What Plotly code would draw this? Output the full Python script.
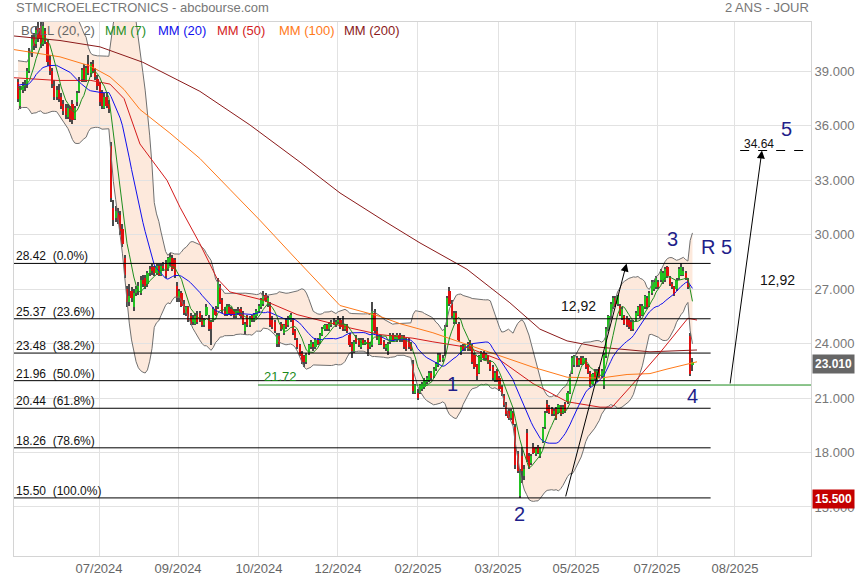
import plotly.graph_objects as go
import pandas as pd

# ---------------- daily OHLC (index 0 = first visible session) ----------------
opens = [
    38.4, 37.1, 38.0, 38.2, 38.3, 39.0, 40.0, 40.9, 40.5, 41.4,
    41.5, 40.5, 41.2, 40.6, 39.6, 39.0, 38.2, 37.6, 38.0, 37.6,
    37.2, 37.0, 36.5, 36.9, 37.2, 36.4, 37.3, 37.9, 38.6, 39.2,
    38.5, 39.4, 38.9, 39.4, 39.0, 38.6, 38.3, 37.8, 37.0, 37.6,
    37.2, 34.9, 31.5, 30.9, 31.2, 31.1, 30.3, 28.7, 27.0, 26.3,
    26.9, 26.0, 26.8, 26.9, 26.8, 27.5, 27.6, 27.3, 27.9, 28.2,
    28.2, 27.9, 28.3, 27.8, 28.3, 28.4, 28.1, 28.5, 28.7, 28.6,
    27.2, 26.5, 26.8, 26.2, 25.7, 26.0, 25.5, 25.2, 25.1, 25.6,
    25.7, 25.4, 25.0, 25.6, 25.4, 25.2, 25.3, 25.9, 26.0, 27.2,
    26.4, 25.8, 25.6, 26.0, 25.9, 25.8, 25.5, 25.7, 25.9, 25.7,
    24.7, 25.5, 25.0, 25.5, 25.3, 25.5, 25.8, 26.0, 26.2, 26.7,
    26.2, 26.1, 25.3, 25.2, 24.0, 24.4, 25.1, 24.6, 25.3, 25.0,
    25.3, 25.3, 24.7, 24.2, 23.9, 23.5, 23.3, 23.0, 23.5, 23.8,
    24.0, 23.8, 24.2, 24.1, 24.5, 24.8, 25.0, 24.8, 25.0, 25.2,
    25.0, 25.2, 25.3, 25.1, 24.8, 25.0, 24.5, 24.0, 23.6, 24.3,
    24.2, 23.8, 24.2, 24.0, 24.2, 23.8, 23.9, 25.7, 24.7, 24.0,
    24.4, 24.1, 23.8, 23.6, 24.1, 24.5, 24.3, 24.2, 24.5, 24.2,
    24.4, 24.2, 24.2, 24.0, 22.9, 21.3, 21.3, 21.3, 21.5, 21.6,
    21.9, 22.0, 22.4, 22.2, 22.6, 22.8, 23.4, 23.1, 23.9, 25.0,
    26.9, 26.2, 25.2, 25.7, 25.1, 23.5, 23.8, 23.7, 23.7, 24.1,
    23.9, 23.4, 22.8, 22.4, 23.1, 23.5, 23.2, 23.3, 23.0, 22.7,
    22.0, 22.5, 22.1, 21.6, 21.1, 20.6, 20.3, 19.9, 20.2, 19.4,
    17.9, 15.6, 17.8, 16.7, 19.1, 17.8, 17.4, 18.3, 17.9, 18.3,
    17.8, 18.6, 19.4, 20.7, 20.5, 20.4, 20.1, 20.4, 20.2, 20.5,
    20.2, 20.7, 20.8, 21.3, 22.4, 22.8, 23.2, 22.8, 23.2, 22.9,
    23.1, 22.8, 22.4, 21.8, 22.5, 22.0, 22.6, 22.2, 21.7, 23.3,
    24.8, 25.5, 26.0, 26.5, 26.2, 26.1, 25.4, 25.5, 25.4, 25.3,
    25.2, 24.8, 25.3, 25.6, 26.1, 25.6, 26.0, 26.5, 26.1, 26.8,
    27.0, 27.1, 27.4, 27.5, 27.4, 27.5, 28.2, 27.6, 27.3, 27.1,
    27.0, 27.6, 27.8, 27.8, 27.9, 27.5, 24.4, 22.8,
]
highs = [
    38.6, 38.2, 38.4, 38.5, 39.2, 40.3, 41.0, 41.1, 41.5, 41.8,
    41.7, 41.8, 41.4, 40.8, 39.9, 39.2, 38.5, 38.2, 38.3, 37.8,
    37.4, 37.2, 37.2, 37.1, 37.4, 37.1, 37.9, 38.7, 39.2, 39.4,
    39.3, 39.9, 39.5, 39.6, 39.2, 38.8, 38.4, 38.0, 37.8, 37.8,
    37.4, 35.1, 31.9, 31.6, 31.5, 31.3, 30.6, 28.9, 27.2, 27.3,
    27.1, 27.0, 27.2, 27.4, 27.7, 27.8, 27.8, 28.0, 28.3, 28.4,
    28.3, 28.4, 28.4, 28.4, 28.5, 28.6, 28.8, 29.0, 28.9, 28.7,
    27.4, 27.0, 26.9, 26.4, 26.1, 26.1, 25.7, 25.6, 25.7, 25.8,
    25.8, 25.6, 25.4, 26.2, 25.6, 25.3, 26.0, 26.1, 27.6, 27.3,
    26.5, 26.0, 26.2, 26.2, 26.0, 25.9, 25.9, 26.0, 26.0, 25.8,
    25.2, 25.6, 25.5, 25.6, 25.7, 25.9, 26.2, 26.5, 26.9, 26.8,
    26.6, 26.3, 25.5, 25.3, 24.6, 24.6, 25.2, 25.1, 25.4, 25.5,
    25.7, 25.4, 24.8, 24.3, 24.0, 23.6, 23.4, 23.5, 24.0, 24.2,
    24.1, 24.3, 24.3, 24.6, 24.9, 25.1, 25.1, 25.2, 25.3, 25.4,
    25.3, 25.5, 25.4, 25.5, 25.1, 25.1, 24.6, 24.1, 24.2, 24.5,
    24.3, 24.3, 24.3, 24.2, 24.3, 24.1, 26.3, 25.9, 24.9, 24.5,
    24.5, 24.2, 24.0, 24.1, 24.6, 24.6, 24.5, 24.6, 24.6, 24.5,
    24.5, 24.3, 24.3, 24.1, 23.1, 21.8, 21.5, 21.8, 21.9, 22.1,
    22.2, 22.5, 22.5, 22.7, 23.0, 23.5, 23.5, 23.4, 25.0, 26.6,
    27.1, 26.4, 25.8, 25.8, 25.2, 23.9, 24.0, 24.0, 24.1, 24.2,
    24.0, 23.5, 22.9, 23.4, 23.6, 23.6, 23.5, 23.4, 23.1, 22.8,
    22.5, 22.6, 22.2, 21.7, 21.2, 20.8, 20.4, 20.4, 20.3, 19.6,
    18.1, 17.1, 18.3, 17.3, 19.3, 18.0, 17.9, 18.5, 18.3, 18.4,
    18.3, 19.4, 20.3, 20.9, 20.6, 20.5, 20.4, 20.5, 20.7, 20.6,
    20.6, 20.8, 21.4, 22.3, 23.3, 23.4, 23.3, 23.2, 23.3, 23.3,
    23.2, 22.9, 22.5, 22.4, 22.6, 22.6, 22.7, 22.6, 23.5, 24.9,
    25.6, 26.3, 26.6, 26.6, 26.7, 26.2, 26.0, 25.6, 25.5, 25.4,
    25.3, 25.3, 25.8, 26.1, 26.2, 26.2, 26.7, 26.6, 26.9, 27.5,
    27.5, 27.7, 27.5, 28.1, 28.0, 28.2, 28.3, 27.7, 27.4, 27.2,
    27.6, 28.2, 28.45, 28.2, 28.0, 27.6, 24.6, 23.2,
]
lows = [
    37.3, 36.9, 37.8, 37.9, 38.1, 38.9, 39.8, 40.2, 40.3, 40.6,
    40.3, 40.4, 40.5, 39.3, 38.8, 38.1, 37.4, 37.4, 37.3, 36.9,
    36.6, 36.4, 36.4, 36.2, 36.1, 36.3, 37.1, 37.8, 38.4, 38.4,
    38.4, 38.8, 38.7, 38.9, 38.5, 38.0, 37.1, 36.9, 36.9, 37.0,
    36.7, 31.8, 30.5, 30.7, 30.6, 30.0, 29.3, 27.6, 26.0, 26.1,
    26.3, 25.8, 26.6, 26.7, 26.7, 27.1, 27.0, 27.1, 27.7, 27.8,
    27.7, 27.8, 27.7, 27.7, 28.0, 27.6, 28.0, 28.3, 28.0, 27.6,
    26.3, 26.3, 26.0, 25.6, 25.5, 25.2, 25.0, 25.0, 25.0, 25.1,
    25.2, 24.9, 24.9, 25.5, 24.7, 23.9, 25.2, 25.5, 25.9, 26.2,
    25.7, 25.5, 25.5, 25.6, 25.5, 25.4, 25.4, 25.6, 25.4, 25.0,
    24.5, 24.9, 24.9, 25.2, 25.2, 25.4, 25.7, 25.9, 26.1, 26.3,
    26.0, 24.9, 24.8, 24.6, 23.8, 23.8, 24.7, 24.5, 24.8, 24.9,
    25.2, 24.5, 24.2, 23.7, 23.3, 22.9, 22.7, 22.9, 23.4, 23.7,
    23.6, 23.7, 23.9, 24.0, 24.4, 24.7, 24.7, 24.7, 24.9, 25.0,
    24.9, 25.1, 24.8, 24.7, 24.7, 24.6, 23.8, 23.2, 23.5, 24.0,
    23.8, 23.7, 23.9, 23.9, 23.3, 23.7, 23.8, 24.6, 24.2, 23.9,
    23.9, 23.7, 23.6, 23.4, 24.0, 24.1, 24.2, 24.1, 24.1, 24.1,
    23.7, 23.6, 23.7, 23.6, 21.2, 21.2, 20.9, 21.2, 21.4, 21.5,
    21.8, 21.9, 22.0, 22.1, 22.5, 22.7, 23.0, 23.0, 23.3, 24.9,
    26.1, 25.4, 25.1, 25.1, 24.1, 23.4, 23.6, 23.6, 23.6, 23.6,
    22.9, 22.6, 22.0, 22.3, 23.0, 23.1, 23.1, 22.9, 22.5, 22.0,
    21.9, 21.9, 21.4, 21.1, 20.5, 20.0, 19.8, 19.8, 19.5, 17.1,
    16.9, 15.5, 16.3, 16.5, 17.5, 17.1, 17.3, 17.9, 17.8, 17.9,
    17.7, 18.5, 19.3, 20.2, 20.1, 20.0, 20.0, 19.8, 20.1, 20.0,
    20.1, 20.2, 20.7, 21.2, 22.3, 22.7, 22.7, 22.7, 22.8, 22.8,
    22.6, 22.3, 21.6, 21.7, 22.0, 21.9, 22.1, 22.1, 21.5, 23.2,
    24.7, 25.4, 25.9, 26.0, 26.1, 25.5, 25.3, 25.0, 24.9, 24.8,
    24.7, 24.7, 25.2, 25.5, 25.4, 25.5, 25.9, 25.9, 26.0, 26.7,
    26.9, 27.0, 27.0, 27.4, 27.3, 27.4, 27.6, 27.2, 27.0, 26.6,
    26.9, 27.5, 27.7, 27.7, 27.5, 27.0, 22.2, 22.5,
]
closes = [
    37.5, 38.0, 38.2, 38.3, 39.0, 40.0, 40.8, 40.4, 41.3, 40.8,
    40.5, 41.5, 40.7, 39.5, 39.0, 38.3, 37.6, 38.0, 37.5, 37.1,
    36.8, 36.6, 37.0, 36.4, 36.3, 37.0, 37.8, 38.5, 39.1, 38.6,
    39.2, 38.9, 39.4, 39.0, 38.7, 38.2, 37.3, 37.1, 37.6, 37.1,
    36.9, 32.0, 30.8, 31.3, 30.8, 30.2, 29.5, 27.8, 26.3, 26.6,
    26.5, 26.8, 27.0, 27.2, 27.5, 27.3, 27.2, 27.9, 28.1, 28.0,
    27.9, 28.3, 27.8, 28.3, 28.2, 27.7, 28.7, 28.8, 28.1, 27.7,
    26.5, 26.9, 26.1, 25.7, 26.0, 25.3, 25.1, 25.4, 25.5, 25.2,
    25.3, 25.0, 25.3, 26.0, 24.8, 24.8, 25.9, 25.6, 27.4, 26.3,
    25.8, 25.6, 26.1, 25.7, 25.6, 25.5, 25.8, 25.8, 25.5, 25.1,
    25.1, 25.0, 25.4, 25.3, 25.6, 25.8, 26.1, 26.4, 26.6, 26.4,
    26.5, 25.0, 24.9, 24.7, 24.5, 24.0, 24.8, 25.0, 24.9, 25.4,
    25.6, 24.6, 24.3, 23.8, 23.4, 23.0, 23.0, 23.4, 23.9, 24.1,
    23.8, 24.2, 24.0, 24.5, 24.8, 25.0, 24.8, 25.1, 25.2, 25.1,
    25.2, 25.3, 24.9, 24.8, 25.0, 24.7, 23.9, 23.6, 24.1, 24.1,
    23.9, 24.2, 24.0, 24.1, 23.7, 24.0, 25.8, 24.7, 24.3, 24.4,
    24.0, 23.8, 23.9, 24.0, 24.5, 24.2, 24.4, 24.5, 24.2, 24.4,
    23.8, 23.7, 23.8, 23.7, 21.4, 21.7, 21.0, 21.7, 21.8, 22.0,
    22.1, 22.4, 22.1, 22.6, 22.9, 23.4, 23.1, 23.2, 24.9, 26.5,
    26.2, 25.5, 25.7, 25.2, 24.2, 23.8, 23.7, 23.9, 24.0, 23.7,
    23.0, 22.7, 22.2, 23.3, 23.5, 23.2, 23.4, 23.0, 22.6, 22.1,
    22.4, 22.0, 21.5, 21.2, 20.6, 20.1, 19.9, 20.3, 19.6, 17.3,
    17.0, 16.9, 17.0, 17.1, 17.6, 17.2, 17.8, 18.0, 18.2, 18.0,
    18.25, 19.35, 20.2, 20.3, 20.2, 20.1, 20.3, 19.9, 20.6, 20.1,
    20.5, 20.3, 21.3, 22.2, 23.2, 23.3, 22.8, 23.1, 22.9, 23.2,
    22.7, 22.4, 21.7, 22.3, 22.1, 22.5, 22.2, 22.5, 23.4, 24.8,
    25.5, 26.2, 26.5, 26.1, 26.6, 25.6, 25.9, 25.1, 25.0, 24.9,
    24.75, 25.2, 25.7, 26.0, 25.5, 26.1, 26.6, 26.0, 26.8, 27.4,
    27.4, 27.6, 27.1, 28.0, 27.9, 28.1, 27.7, 27.3, 27.1, 26.7,
    27.5, 28.1, 28.2, 28.0, 27.6, 27.1, 22.3, 23.01,
]
# closes of the sessions just before the visible window (estimated from where MM7/MM20/BOLL start)
pre_close = [37.3, 37.9, 38.6, 39.1, 38.7, 38.0, 37.4, 37.1, 37.6, 38.4,
             39.2, 39.5, 39.0, 38.5, 38.0, 37.6, 38.1, 38.8, 38.4]

# long moving averages (session index -> value)
mm50_idx = [-1.8, 17.2, 32.1, 40.5, 46.7, 53.7, 65.6, 71.4, 80.1, 87.6, 93.3, 107.9, 122.9, 144.9, 159.4, 173.9, 182.7, 197.7, 212.2, 226.8, 241.8, 256.3, 261.6, 269.5, 282.7, 295.0, 299.0]
mm50_val = [38.65, 38.5, 38.5, 38.3, 37.5, 35.0, 33.0, 31.5, 29.5, 27.6, 26.85, 26.4, 25.6, 24.9, 24.5, 24.3, 24.1, 23.8, 23.1, 21.8, 20.8, 20.5, 20.5, 21.6, 23.5, 25.4, 25.3]
mm100_idx = [-1.8, 18.5, 31.7, 40.5, 46.7, 53.7, 66.9, 80.1, 93.3, 106.5, 122.9, 141.8, 159.4, 168.2, 182.7, 204.7, 226.8, 241.8, 256.3, 268.2, 278.3, 285.8, 292.8, 299.0]
mm100_val = [40.2, 39.8, 39.3, 38.7, 38.0, 36.9, 35.6, 34.2, 32.5, 30.8, 28.6, 26.1, 25.5, 25.1, 24.6, 23.65, 22.7, 22.15, 22.1, 22.3, 22.35, 22.6, 22.8, 23.0]
mm200_idx = [-1.8, 18.5, 36.1, 55.0, 80.1, 102.1, 124.2, 141.8, 160.7, 177.0, 197.7, 216.6, 229.8, 241.8, 256.3, 278.3, 299.0]
mm200_val = [40.95, 40.7, 40.35, 39.5, 37.9, 36.05, 34.0, 32.3, 30.8, 29.55, 28.1, 26.25, 24.8, 24.15, 23.8, 23.55, 23.65]

# axis ticks (session index where abcbourse places its month labels)
tick_idx = [35.7, 70.5, 106.1, 140.9, 176.1, 211.4, 245.7, 281.4, 315.7]
tick_text = ["07/2024", "09/2024", "10/2024", "12/2024", "02/2025", "03/2025", "05/2025", "07/2025", "08/2025"]

# Fibonacci retracement levels
fib_levels = [28.42, 25.37, 23.48, 21.96, 20.44, 18.26, 15.50]
fib_pct = ["0.0%", "23.6%", "38.2%", "50.0%", "61.8%", "78.6%", "100.0%"]

support_level = 21.72
target_level = 34.64
last_close = 23.01
low_level = 15.50
wave_move = "12,92"

# ---------------- indicators ----------------
n = len(closes)
idx = list(range(n))
k = len(pre_close)
s = pd.Series(pre_close + closes, dtype=float)
ma7 = s.rolling(7).mean().iloc[k:].tolist()
m20 = s.rolling(20).mean()
sd20 = s.rolling(20).std(ddof=0)
upper = (m20 + 2 * sd20).iloc[k:].tolist()
lower = (m20 - 2 * sd20).iloc[k:].tolist()
ma20 = m20.iloc[k:].tolist()

FONT = "Arial, Liberation Sans, sans-serif"
fig = go.Figure()

# candle wicks and bodies (bars, overlaid in trace order)
fig.add_trace(go.Bar(x=idx, y=[h - l for h, l in zip(highs, lows)], base=lows, width=0.45,
                     marker=dict(color="#4a4a4a", line=dict(width=0)), hoverinfo="skip"))
base = [min(o, c) for o, c in zip(opens, closes)]
height = [max(abs(c - o), 0.07) for o, c in zip(opens, closes)]
cols = ["#22c222" if c >= o else "#e01010" for o, c in zip(opens, closes)]
fig.add_trace(go.Bar(x=idx, y=height, base=base, width=0.95, marker=dict(color=cols, line=dict(width=0))))

# Bollinger envelope lines (the fill is a shape under the candles, see below)
fig.add_trace(go.Scatter(x=idx, y=lower, mode="lines", line=dict(color="#707070", width=1), hoverinfo="skip"))
fig.add_trace(go.Scatter(x=idx, y=upper, mode="lines", line=dict(color="#707070", width=1), hoverinfo="skip"))

# moving averages
fig.add_trace(go.Scatter(x=mm200_idx, y=mm200_val, mode="lines", line=dict(color="#8b1a1a", width=1)))
fig.add_trace(go.Scatter(x=mm100_idx, y=mm100_val, mode="lines", line=dict(color="#ff7a1a", width=1)))
fig.add_trace(go.Scatter(x=mm50_idx, y=mm50_val, mode="lines", line=dict(color="#d41c1c", width=1)))
fig.add_trace(go.Scatter(x=idx, y=ma20, mode="lines", line=dict(color="#1010ee", width=1)))
fig.add_trace(go.Scatter(x=idx, y=ma7, mode="lines", line=dict(color="#1f8f1f", width=1)))

X_MIN, X_MAX = -1.76, 349.2
shapes = []
annotations = []

# Bollinger fill as a data-space path drawn beneath the traces
pts = [(i, u) for i, u in zip(idx, upper)] + [(i, l) for i, l in reversed(list(zip(idx, lower)))]
path = "M " + " L ".join(f"{x},{y:.4f}" for x, y in pts) + " Z"
shapes.append(dict(type="path", path=path, xref="x", yref="y", fillcolor="#fde9dc",
                   line=dict(width=0), layer="below"))

fib_end = 305
for lv, pct in zip(fib_levels, fib_pct):
    shapes.append(dict(type="line", x0=X_MIN, x1=fib_end, y0=lv, y1=lv, xref="x", yref="y",
                       line=dict(color="black", width=1), layer="above"))
    annotations.append(dict(x=0, xref="paper", y=lv, yref="y", xanchor="left", yanchor="bottom",
                            text=f"{lv:.2f}\u00a0 ({pct})", showarrow=False, yshift=-2,
                            font=dict(family=FONT, size=12, color="#111")))

# support 21.72 (green)
shapes.append(dict(type="line", x0=105.7, x1=X_MAX, xref="x", y0=support_level, y1=support_level, yref="y",
                   line=dict(color="#1a8a1a", width=1), layer="above"))
annotations.append(dict(x=115.5, y=support_level, yref="y", xref="x", text=f"{support_level:.2f}",
                        showarrow=False, yanchor="bottom", yshift=-1,
                        font=dict(family=FONT, size=13, color="#1a8a1a")))

# target 34.64 (dashed)
shapes.append(dict(type="line", x0=318, x1=X_MAX, y0=target_level, y1=target_level, xref="x", yref="y",
                   line=dict(color="black", width=1, dash="dash"), layer="above"))
annotations.append(dict(x=326.5, y=target_level, xref="x", yref="y", text=f"{target_level:.2f}",
                        showarrow=False, yanchor="bottom", yshift=-2,
                        font=dict(family=FONT, size=12, color="#111")))

# arrows (wave 1-3 length projected from 4)
annotations.append(dict(x=268, y=fib_levels[0], ax=241, ay=low_level, xref="x", yref="y", axref="x", ayref="y",
                        text="", showarrow=True, arrowhead=2, arrowsize=1.6, arrowwidth=1, arrowcolor="black"))
annotations.append(dict(x=327.6, y=target_level, ax=313.5, ay=support_level, xref="x", yref="y", axref="x", ayref="y",
                        text="", showarrow=True, arrowhead=2, arrowsize=1.6, arrowwidth=1, arrowcolor="black"))
annotations.append(dict(x=247, y=26.1, xref="x", yref="y", text=wave_move, showarrow=False,
                        font=dict(family=FONT, size=14, color="#111")))
annotations.append(dict(x=334.5, y=27.5, xref="x", yref="y", text=wave_move, showarrow=False,
                        font=dict(family=FONT, size=14, color="#111")))

# Elliott wave labels
waves = [("1", 191.5, 21.75), ("2", 221, 14.6), ("3", 288.4, 29.75), ("4", 297.2, 21.1),
         ("5", 338.6, 35.8), ("R 5", 307.8, 29.35)]
for t, xi, yv in waves:
    annotations.append(dict(x=xi, y=yv, xref="x", yref="y", text=t, showarrow=False,
                            font=dict(family=FONT, size=20, color="#1f1f8a")))

# right-side price flags
annotations.append(dict(x=1, xref="paper", xanchor="left", xshift=1, y=last_close, yref="y", yshift=-2,
                        text=f"<b>{last_close:.3f}</b>", showarrow=False, bgcolor="#666666", borderpad=2,
                        font=dict(family=FONT, size=12, color="white")))
annotations.append(dict(x=1, xref="paper", xanchor="left", xshift=1, y=low_level, yref="y", yshift=-1,
                        text=f"<b>{low_level:.3f}</b>", showarrow=False, bgcolor="#c40000", borderpad=2,
                        font=dict(family=FONT, size=12, color="white")))

# plot area at page pixels x 14..811, y 22..556
FW, FH = 860, 580
ML, MT, MR, MB = 14, 22, FW - 811, FH - 556
PW, PH = FW - ML - MR, FH - MT - MB

def px(xp):  # page pixel -> paper x
    return (xp - ML) / PW

def py(yp):  # page pixel -> paper y
    return (MT + PH - yp) / PH

annotations.append(dict(x=px(14), y=py(8), xref="paper", yref="paper", xanchor="left", yanchor="middle",
                        text="STMICROELECTRONICS - abcbourse.com", showarrow=False,
                        font=dict(family=FONT, size=13, color="#777")))
annotations.append(dict(x=px(811), y=py(8), xref="paper", yref="paper", xanchor="right", yanchor="middle",
                        text="2 ANS - JOUR", showarrow=False, font=dict(family=FONT, size=13, color="#777")))
legend = [("BOLL (20, 2)", 19, "#666666"), ("MM (7)", 103, "#1f8f1f"), ("MM (20)", 156, "#1010ee"),
          ("MM (50)", 215, "#d41c1c"), ("MM (100)", 277, "#ff7a1a"), ("MM (200)", 342, "#8b1a1a")]
for t, xp, c in legend:
    annotations.append(dict(x=px(xp), y=py(30), xref="paper", yref="paper", xanchor="left", yanchor="middle",
                            text=t, showarrow=False, font=dict(family=FONT, size=13, color=c)))

fig.update_layout(
    width=FW, height=FH, autosize=False,
    margin=dict(l=ML, r=MR, t=MT, b=MB, pad=0),
    paper_bgcolor="white", plot_bgcolor="white",
    showlegend=False, barmode="overlay", bargap=0,
    shapes=shapes, annotations=annotations,
    xaxis=dict(range=[X_MIN, X_MAX], tickmode="array", tickvals=tick_idx, ticktext=tick_text,
               showgrid=True, gridcolor="#e2e2e2", zeroline=False, showline=True, mirror=True,
               linecolor="#d4d4d4", ticks="", fixedrange=True, automargin=False,
               tickfont=dict(family="Liberation Sans Narrow, Arial Narrow, Arial", size=13, color="#666")),
    yaxis=dict(range=[12.30, 41.72], side="right", dtick=3, tick0=0, tickformat=".3f",
               showgrid=True, gridcolor="#e2e2e2", zeroline=False, showline=True, mirror=True,
               linecolor="#d4d4d4", ticks="", fixedrange=True, automargin=False,
               tickfont=dict(family=FONT, size=13, color="#777")),
)
# the default page body has an 8px margin; remove it so the figure sits at the window origin
fig.write_html("out.html", config={"displayModeBar": False},
               post_script="document.body.style.margin='0';document.body.style.overflow='hidden';")
